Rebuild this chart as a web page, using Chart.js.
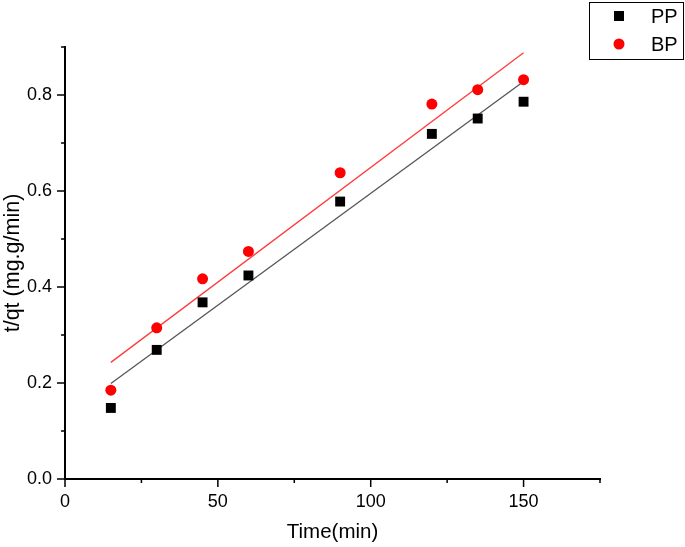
<!DOCTYPE html>
<html>
<head>
<meta charset="utf-8">
<script src="https://cdn.jsdelivr.net/npm/chart.js@4"></script>
<style>
    html, body { margin: 0; padding: 0; background: #fff; }
    #wrap { width: 685px; height: 547px; }
</style>
</head>
<body>
<div id="wrap"><canvas id="kinetikChart" width="685" height="547"></canvas></div>
<script>
// ========== DATA ==========
const waktu = [15, 30, 45, 60, 90, 120, 135, 150];
const dataPP = [0.148, 0.269, 0.368, 0.424, 0.578, 0.719, 0.751, 0.786];
const dataBP = [0.185, 0.315, 0.417, 0.474, 0.638, 0.781, 0.811, 0.832];

// garis fit
const fitX = [15, 150];
const fitPP = [0.199, 0.828];
const fitBP = [0.243, 0.888];

// tick
const xMajor = [0, 50, 100, 150];
const xMinor = [25, 75, 125, 175];
const yMajor = [0, 0.2, 0.4, 0.6, 0.8];
const yMinor = [0.1, 0.3, 0.5, 0.7, 0.9];

const toPts = (xs, ys) => xs.map((x, i) => ({ x: x, y: ys[i] }));

// ========== PLUGIN: tick mayor/minor ==========
const tickPlugin = {
    id: "tickMarks",
    afterDraw(chart) {
        const { ctx, scales: { x, y } } = chart;
        const axisY = y.getPixelForValue(0);
        const axisX = x.getPixelForValue(0);
        ctx.save();
        ctx.strokeStyle = "#000";
        ctx.lineWidth = 1.5;
        ctx.beginPath();
        xMajor.forEach(v => { const px = x.getPixelForValue(v); ctx.moveTo(px, axisY); ctx.lineTo(px, axisY + 8); });
        xMinor.forEach(v => { const px = x.getPixelForValue(v); ctx.moveTo(px, axisY); ctx.lineTo(px, axisY + 4); });
        yMajor.forEach(v => { const py = y.getPixelForValue(v); ctx.moveTo(axisX, py); ctx.lineTo(axisX - 8, py); });
        yMinor.forEach(v => { const py = y.getPixelForValue(v); ctx.moveTo(axisX, py); ctx.lineTo(axisX - 4, py); });
        ctx.stroke();
        ctx.restore();
    }
};

// ========== PLUGIN: legenda kotak ==========
const legendPlugin = {
    id: "boxLegend",
    afterDraw(chart) {
        const ctx = chart.ctx;
        ctx.save();
        ctx.strokeStyle = "#000";
        ctx.lineWidth = 1;
        ctx.strokeRect(589.5, 2.5, 94, 57);
        ctx.fillStyle = "#000";
        ctx.fillRect(614, 11, 10, 10);
        ctx.fillStyle = "#ff0000";
        ctx.beginPath();
        ctx.arc(619, 44, 5.5, 0, Math.PI * 2);
        ctx.fill();
        ctx.fillStyle = "#000";
        ctx.font = "20px 'Liberation Sans', Arial, sans-serif";
        ctx.textBaseline = "middle";
        ctx.fillText("PP", 651, 17);
        ctx.fillText("BP", 651, 45);
        ctx.restore();
    }
};

const fam = "'Liberation Sans', Arial, sans-serif";
const tickFont = { family: fam, size: 18 };

// ========== CHART ==========
new Chart(document.getElementById("kinetikChart").getContext("2d"), {
    type: "scatter",
    data: {
        datasets: [
            {
                label: "PP",
                data: toPts(waktu, dataPP),
                pointStyle: "rect",
                pointRadius: 7,
                backgroundColor: "#000",
                borderWidth: 0
            },
            {
                label: "BP",
                data: toPts(waktu, dataBP),
                pointStyle: "circle",
                pointRadius: 5.5,
                backgroundColor: "#ff0000",
                borderWidth: 0
            },
            {
                label: "fitPP",
                type: "line",
                data: toPts(fitX, fitPP),
                borderColor: "#555555",
                borderWidth: 1.3,
                pointRadius: 0,
                fill: false
            },
            {
                label: "fitBP",
                type: "line",
                data: toPts(fitX, fitBP),
                borderColor: "#ff3b3b",
                borderWidth: 1.3,
                pointRadius: 0,
                fill: false
            }
        ]
    },
    options: {
        responsive: false,
        animation: false,
        layout: { padding: { left: 0, top: 47, right: 85, bottom: 0 } },
        plugins: {
            legend: { display: false },
            tooltip: { enabled: false }
        },
        scales: {
            x: {
                type: "linear",
                min: 0,
                max: 175,
                afterFit: s => { s.height = 68; },
                afterBuildTicks: s => { s.ticks = s.ticks.filter(t => xMajor.includes(t.value)); },
                ticks: { stepSize: 50, color: "#000", font: tickFont, padding: 4, maxRotation: 0 },
                grid: { display: false, drawTicks: true, tickLength: 8 },
                border: { display: true, color: "#000", width: 2 },
                title: { display: true, text: "Time(min)", color: "#000", font: { family: fam, size: 20.5 }, padding: { top: 0, bottom: 2 } }
            },
            y: {
                type: "linear",
                min: 0,
                max: 0.9,
                afterFit: s => { s.width = 65; },
                afterBuildTicks: s => { s.ticks = s.ticks.filter(t => yMajor.some(v => Math.abs(v - t.value) < 1e-6)); },
                ticks: { stepSize: 0.2, color: "#000", font: tickFont, padding: 5, callback: v => v.toFixed(1) },
                grid: { display: false, drawTicks: true, tickLength: 8 },
                border: { display: true, color: "#000", width: 2 },
                title: { display: true, text: "t/qt (mg.g/min)", color: "#000", font: { family: fam, size: 21.5 }, padding: { top: 0, bottom: 0 } }
            }
        }
    },
    plugins: [tickPlugin, legendPlugin]
});
</script>
</body>
</html>
